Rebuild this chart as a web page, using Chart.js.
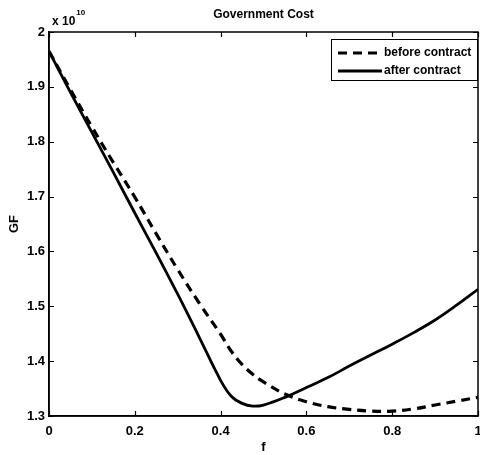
<!DOCTYPE html>
<html>
<head>
<meta charset="utf-8">
<script src="https://cdn.jsdelivr.net/npm/chart.js@4/dist/chart.umd.min.js"></script>
<style>
  html, body { margin: 0; padding: 0; background: #fff; }
  #wrap { width: 480px; height: 455px; position: relative; }
</style>
</head>
<body>
<div id="wrap"><canvas id="c" width="480" height="455"></canvas></div>
<script>
// ---- data (GF in units of 1e10) ----
const fValues = [0, 0.05, 0.1, 0.15, 0.2, 0.25, 0.3, 0.35, 0.4, 0.425, 0.45, 0.475, 0.5, 0.55, 0.6, 0.65, 0.7, 0.75, 0.8, 0.85, 0.9, 0.95, 1.0];
const beforeContract = [1.965, 1.895, 1.827, 1.762, 1.699, 1.632, 1.567, 1.506, 1.449, 1.418, 1.394, 1.376, 1.362, 1.340, 1.326, 1.317, 1.312, 1.309, 1.309, 1.313, 1.320, 1.327, 1.334];
const afterContract  = [1.965, 1.890, 1.817, 1.744, 1.670, 1.597, 1.522, 1.444, 1.365, 1.336, 1.323, 1.318, 1.320, 1.334, 1.352, 1.370, 1.391, 1.411, 1.431, 1.452, 1.475, 1.502, 1.531];
const xTicks = [0, 0.2, 0.4, 0.6, 0.8, 1];
const yTicks = [1.3, 1.4, 1.5, 1.6, 1.7, 1.8, 1.9, 2.0];
const seriesNames = ['before contract', 'after contract'];
const titleText = 'Government Cost';
const xTitle = 'f';
const yTitle = 'GF';
const exponentText = ['x 10', '10'];

const FONT = '"Liberation Sans", Arial, sans-serif';

const toPts = arr => fValues.map((f, i) => ({x: f, y: arr[i]}));

const boxPlugin = {
  id: 'boxPlugin',
  afterDraw(chart) {
    const {ctx, chartArea: a, scales: {x, y}} = chart;
    ctx.save();
    ctx.strokeStyle = '#000';
    ctx.lineWidth = 1.5;
    ctx.strokeRect(a.left, a.top, a.right - a.left, a.bottom - a.top);
    ctx.lineWidth = 1.2;
    const L = 5;
    ctx.beginPath();
    xTicks.forEach(v => {
      const px = Math.round(x.getPixelForValue(v)) + 0.5;
      ctx.moveTo(px, a.bottom); ctx.lineTo(px, a.bottom - L);
      ctx.moveTo(px, a.top); ctx.lineTo(px, a.top + L);
    });
    yTicks.forEach(v => {
      const py = Math.round(y.getPixelForValue(v)) + 0.5;
      ctx.moveTo(a.left, py); ctx.lineTo(a.left + L, py);
      ctx.moveTo(a.right, py); ctx.lineTo(a.right - L, py);
    });
    ctx.stroke();

    // exponent label
    ctx.fillStyle = '#000';
    ctx.textBaseline = 'alphabetic';
    ctx.textAlign = 'left';
    ctx.font = 'bold 12px ' + FONT;
    ctx.fillText(exponentText[0], a.left + 3, 25);
    const w = ctx.measureText(exponentText[0]).width;
    ctx.font = 'bold 8px ' + FONT;
    ctx.fillText(exponentText[1], a.left + 3 + w + 1, 15);

    // legend
    const lx = 331, ly = 39, lw = 146, lh = 41;
    ctx.fillStyle = '#fff';
    ctx.fillRect(lx, ly, lw, lh);
    ctx.strokeStyle = '#000';
    ctx.lineWidth = 1;
    ctx.strokeRect(lx + 0.5, ly + 0.5, lw, lh);
    const rows = [53, 71];
    chart.data.datasets.forEach((ds, i) => {
      ctx.beginPath();
      ctx.lineWidth = ds.borderWidth;
      ctx.setLineDash(ds.borderDash || []);
      ctx.moveTo(338, rows[i]);
      ctx.lineTo(382, rows[i]);
      ctx.stroke();
      ctx.setLineDash([]);
      ctx.fillStyle = '#000';
      ctx.font = 'bold 12px ' + FONT;
      ctx.textBaseline = 'middle';
      ctx.fillText(ds.label, 384, rows[i]);
    });
    ctx.restore();
  }
};

new Chart(document.getElementById('c'), {
  type: 'line',
  data: {
    datasets: [
      { label: seriesNames[0], data: toPts(beforeContract), borderColor: '#000', borderWidth: 3.2, borderDash: [9, 6], pointRadius: 0, tension: 0.4, fill: false },
      { label: seriesNames[1], data: toPts(afterContract), borderColor: '#000', borderWidth: 2.8, pointRadius: 0, tension: 0.4, fill: false }
    ]
  },
  options: {
    responsive: false,
    animation: false,
    devicePixelRatio: 1,
    layout: { padding: { left: 0, right: 2, top: 0, bottom: 0 } },
    plugins: {
      legend: { display: false },
      tooltip: { enabled: false },
      title: {
        display: true, text: titleText, fullSize: false, color: '#000',
        font: { family: FONT, size: 12, weight: 'bold', lineHeight: 1.2 },
        padding: { top: 7, bottom: 10.6 }
      }
    },
    scales: {
      x: {
        type: 'linear', min: 0, max: 1,
        afterBuildTicks: s => { s.ticks = xTicks.map(v => ({value: v})); },
        afterFit: s => { s.height = 39; s.paddingLeft = 0; s.paddingRight = 0; },
        grid: { display: false, drawTicks: false },
        border: { display: true, color: '#000', width: 1.5 },
        ticks: { color: '#000', padding: 8, maxRotation: 0, autoSkip: false, font: { family: FONT, size: 13, weight: 'bold' }, callback: v => String(v) },
        title: { display: true, text: xTitle, color: '#000', font: { family: FONT, size: 13, weight: 'bold', lineHeight: 1.2 }, padding: { top: 0, bottom: 0 } }
      },
      y: {
        type: 'linear', min: 1.3, max: 2,
        afterBuildTicks: s => { s.ticks = yTicks.map(v => ({value: v})); },
        afterFit: s => { s.width = 49; s.paddingTop = 0; s.paddingBottom = 0; },
        grid: { display: false, drawTicks: false },
        border: { display: true, color: '#000', width: 1.5 },
        ticks: { color: '#000', padding: 4, autoSkip: false, font: { family: FONT, size: 13, weight: 'bold' }, callback: v => String(Math.round(v * 10) / 10) },
        title: { display: true, text: yTitle, color: '#000', font: { family: FONT, size: 13, weight: 'bold', lineHeight: 1.2 }, padding: { top: 7, bottom: 0 } }
      }
    }
  },
  plugins: [boxPlugin]
});
</script>
</body>
</html>
